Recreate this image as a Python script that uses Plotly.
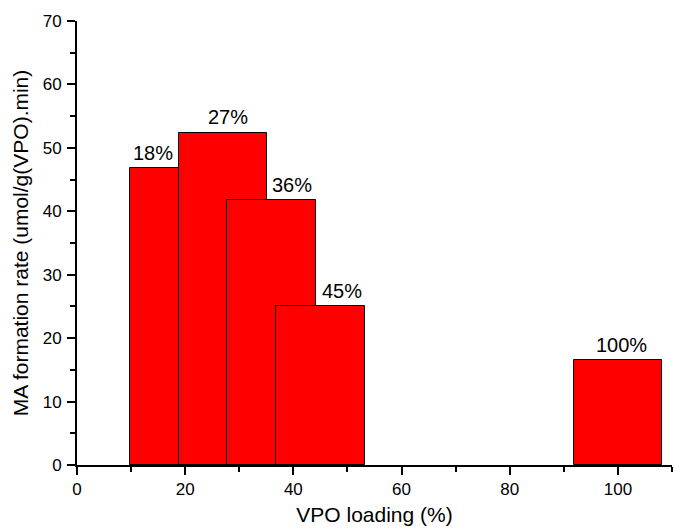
import plotly.graph_objects as go

# VPO loading (%) and MA formation rate (umol/g(VPO).min)
loading = [18, 27, 36, 45, 100]
rate = [46.8, 52.4, 41.8, 25.0, 16.5]
labels = ["18%", "27%", "36%", "45%", "100%"]

# horizontal nudges for the value labels so they sit on the visible part of each bar
label_shift = [-4.0, 0.9, 3.7, 3.9, 0.6]
label_lift = 2.4

FONT = "Arial, Liberation Sans, sans-serif"

fig = go.Figure()
fig.add_trace(go.Bar(
    x=loading,
    y=rate,
    width=16.4,
    marker=dict(color="#FF0000", line=dict(color="black", width=1)),
    showlegend=False,
))

for xv, yv, txt, dx in zip(loading, rate, labels, label_shift):
    fig.add_annotation(
        x=xv + dx, y=yv + label_lift, text=txt, showarrow=False,
        font=dict(family=FONT, size=20, color="black"),
        xanchor="center", yanchor="middle",
    )

axis_common = dict(
    showline=True, linecolor="black", linewidth=2,
    ticks="outside", ticklen=8, tickwidth=2, tickcolor="black",
    showgrid=False, zeroline=False,
    tickfont=dict(family=FONT, size=17, color="black"),
)

fig.update_xaxes(
    range=[0, 110], tickvals=[0, 20, 40, 60, 80, 100],
    minor=dict(dtick=10, tick0=0, ticks="outside", ticklen=5, tickwidth=2, tickcolor="black"),
    title=dict(text="VPO loading (%)", font=dict(family=FONT, size=21, color="black"), standoff=9),
    ticklabelstandoff=0,
    **axis_common,
)
fig.update_yaxes(
    range=[0, 70], dtick=10,
    minor=dict(dtick=5, tick0=0, ticks="outside", ticklen=5, tickwidth=2, tickcolor="black"),
    title=dict(text="MA formation rate (umol/g(VPO).min)", font=dict(family=FONT, size=21, color="black"), standoff=8),
    ticklabelstandoff=2,
    **axis_common,
)

fig.update_layout(
    width=674, height=531,
    margin=dict(l=77, r=2, t=21, b=66),
    plot_bgcolor="white", paper_bgcolor="white",
    bargap=0,
)

fig.write_html("out.html")
